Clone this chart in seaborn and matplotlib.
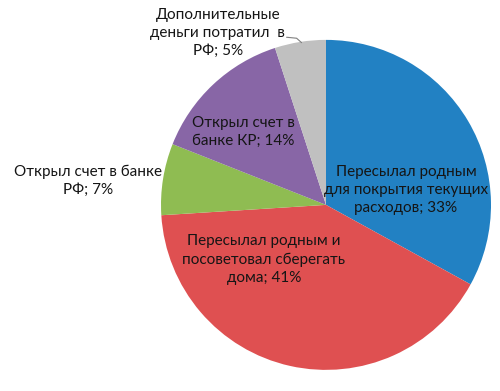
import matplotlib
matplotlib.use("Agg")
import matplotlib.pyplot as plt
import seaborn as sns

categories = [
    "Пересылал родным\nдля покрытия текущих\nрасходов",
    "Пересылал родным и\nпосоветовал сберегать\nдома",
    "Открыл счет в банке\nРФ",
    "Открыл счет в\nбанке КР",
    "Дополнительные\nденьги потратил  в\nРФ",
]
values = [33, 41, 7, 14, 5]
colors = ["#2281C3", "#DF5051", "#8FBC52", "#8866A6", "#C0C0C0"]
# label anchor positions in pie data units (centre 0,0, radius 1)
label_pos = [(0.485, 0.09), (-0.376, -0.333), (-1.442, 0.145), (-0.503, 0.442), (-0.655, 1.042)]

sns.set_theme(style="white")
plt.rcParams["font.family"] = ["Lato", "DejaVu Sans"]

fig = plt.figure(figsize=(5.0, 3.91), dpi=100)
ax = fig.add_axes([0.322, 0.054, 0.66, 0.844])
wedges, _ = ax.pie(values, colors=colors, startangle=90, counterclock=False,
                   radius=1.0, wedgeprops=dict(linewidth=0))
ax.set_xlim(-1.0, 1.0)
ax.set_ylim(-1.0, 1.0)
ax.set_aspect("equal")
ax.axis("off")

for cat, v, (x, y) in zip(categories, values, label_pos):
    ax.text(x, y, f"{cat}; {v}%", ha="center", va="center", fontsize=11,
            color="#151515", linespacing=1.38, clip_on=False)

# leader line for the small grey slice
ax.plot([-0.239, -0.178, -0.148], [1.016, 1.010, 0.983], color="#808080",
        linewidth=0.8, clip_on=False)

fig.savefig("out.png", dpi=100)
